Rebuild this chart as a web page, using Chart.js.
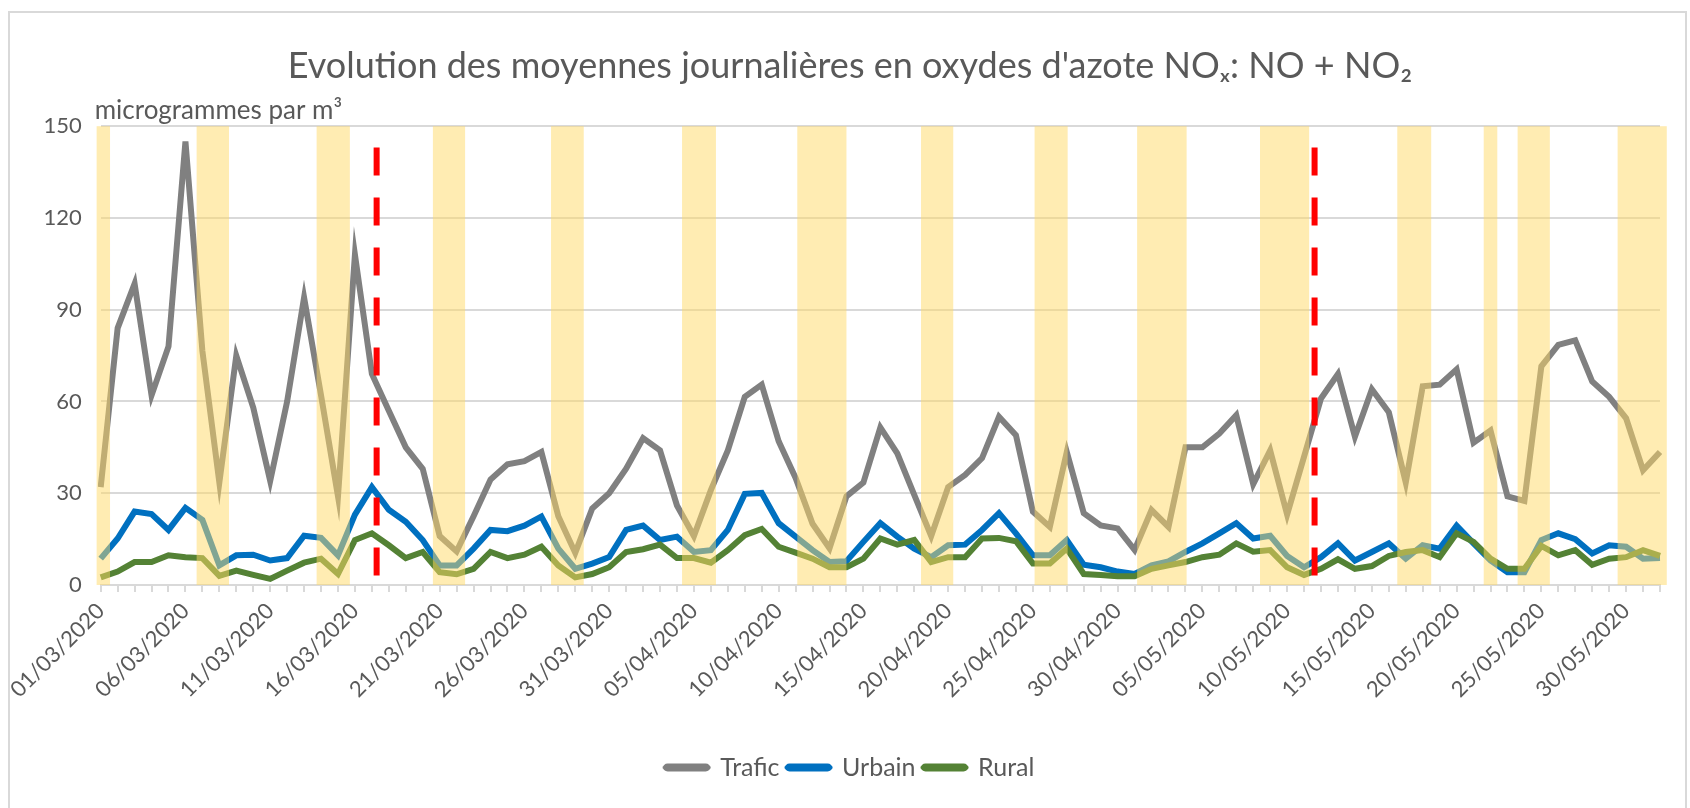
<!DOCTYPE html>
<html>
<head>
<meta charset="utf-8">
<script src="https://cdn.jsdelivr.net/npm/chart.js@4"></script>
<style>
  html, body { margin: 0; padding: 0; background: #fff; }
  #wrap { position: relative; width: 1690px; height: 808px; overflow: hidden; }
  #frame { position: absolute; left: 8px; top: 11px; right: 3px; bottom: -5px; border: 2px solid #D9D9D9; }
  canvas { position: absolute; left: 0; top: 0; }
</style>
</head>
<body>
<div id="wrap">
  <div id="frame"></div>
  <canvas id="noxChart" width="1690" height="808"></canvas>
</div>
<script>
// Jours du 01/03/2020 au 01/06/2020
const dates = [];
for (let d = new Date(2020, 2, 1); d <= new Date(2020, 5, 1); d.setDate(d.getDate() + 1)) {
    const dd = String(d.getDate()).padStart(2, "0");
    const mm = String(d.getMonth() + 1).padStart(2, "0");
    dates.push(dd + "/" + mm + "/2020");
}

// Moyennes journalières (µg/m³)
const trafic = [32, 84, 98.5, 62, 78, 145, 76.5, 33.5, 75, 58, 34, 60, 94, 62, 29, 108, 69, 57, 45, 38,
    16, 11, 22.5, 34.5, 39.5, 40.5, 43.5, 22.5, 10.5, 25, 30, 38, 48, 44, 26, 16, 31, 44, 61.5, 65.5,
    47, 35, 20, 12, 29, 33.5, 51.5, 43, 29.5, 16, 32, 36, 41.5, 55, 49, 24, 19, 43.5, 23.5, 19.5,
    18.5, 11.5, 24.5, 19, 45, 45, 49.5, 55.5, 33, 44, 23, 42, 61, 69, 48.5, 64, 56.5, 33.5, 65, 65.5,
    70.5, 46.5, 50.5, 29, 27.5, 71.5, 78.5, 80, 66.5, 61.5, 54.5, 37.5, 43.5];

const urbain = [8.6, 15.2, 24, 23.2, 18, 25.2, 21.3, 6.4, 9.7, 9.9, 8, 8.8, 16.1, 15.4, 9.7, 23, 32, 24.6, 20.7, 14.7,
    6.4, 6.4, 11.9, 18, 17.6, 19.4, 22.4, 11.9, 5.3, 7, 9.1, 18, 19.4, 14.7, 15.8, 10.8, 11.4, 18, 29.8, 30.1,
    20.2, 15.8, 11.4, 7.5, 7.8, 14.1, 20.2, 15.8, 11.9, 9.1, 13, 13.2, 18, 23.5, 16.9, 9.7, 9.7, 14.7, 6.6, 5.8,
    4.4, 3.6, 6.4, 7.7, 10.8, 13.6, 16.9, 20.2, 15.2, 16.1, 9.5, 5.8, 9.1, 13.6, 8, 10.8, 13.6, 8.6, 13, 11.9,
    19.4, 13.6, 8, 4.2, 4.2, 14.7, 16.9, 15, 10.3, 13, 12.5, 8.6, 8.8];

const rural = [2.5, 4.4, 7.5, 7.5, 9.7, 9.1, 8.8, 3, 4.7, 3.3, 2, 4.7, 7.3, 8.6, 3.6, 14.7, 16.9, 13, 8.8, 10.8,
    4.2, 3.5, 5.3, 10.8, 8.8, 9.9, 12.5, 6.4, 2.5, 3.6, 5.8, 10.8, 11.7, 13.2, 8.8, 8.8, 7.3, 11.4, 16.3, 18.3,
    12.5, 10.6, 8.6, 5.8, 5.8, 8.6, 15.2, 13.2, 14.7, 7.5, 9.1, 9.1, 15.2, 15.4, 14.3, 7, 7, 11.9, 3.6, 3.3,
    2.9, 2.9, 5.3, 6.4, 7.5, 9.1, 9.9, 13.6, 10.9, 11.4, 5.8, 3.3, 5.3, 8.4, 5.3, 6.2, 9.5, 10.8, 11.4, 9.1,
    16.9, 14.1, 8.6, 5.3, 5.3, 12.8, 9.7, 11.4, 6.6, 8.6, 9.1, 11.4, 9.5];

// Week-ends et jours fériés (en index de jour, début / fin)
const holidayBands = [
    [-0.24, 0.55], [5.66, 7.57], [12.74, 14.7], [19.6, 21.5], [26.57, 28.5],
    [34.3, 36.3], [41.1, 44.0], [48.4, 50.3], [55.1, 57.05], [61.15, 64.07],
    [68.4, 71.3], [76.5, 78.5], [81.6, 82.4], [83.6, 85.5], [89.5, 92.4]
];

// Début et fin du confinement
const lockdownMarks = [16.28, 71.62];
const lockdownTop = 143;

// Graduations
const yTicks = { min: 0, max: 150, step: 30 };

const textColor = "#595959";
const fontFamily = "Lato, 'Liberation Sans', sans-serif";

const overlayPlugin = {
    id: "overlay",
    afterDatasetsDraw(chart) {
        const { ctx, scales: { x, y } } = chart;
        const top = y.getPixelForValue(yTicks.max);
        const bottom = y.getPixelForValue(0);

        ctx.save();
        ctx.fillStyle = "rgba(255, 217, 102, 0.5)";
        holidayBands.forEach(([from, to]) => {
            const x1 = x.getPixelForValue(from);
            const x2 = x.getPixelForValue(to);
            ctx.fillRect(x1, top, x2 - x1, bottom - top);
        });

        ctx.strokeStyle = "#FF0000";
        ctx.lineWidth = 6;
        ctx.setLineDash([28, 22]);
        lockdownMarks.forEach(pos => {
            const px = x.getPixelForValue(pos);
            ctx.beginPath();
            ctx.moveTo(px, y.getPixelForValue(lockdownTop));
            ctx.lineTo(px, bottom);
            ctx.stroke();
        });
        ctx.restore();
    },
    afterDraw(chart) {
        const { ctx, chartArea } = chart;
        ctx.save();
        ctx.fillStyle = textColor;
        ctx.font = "26px " + fontFamily;
        ctx.textAlign = "left";
        ctx.textBaseline = "middle";
        ctx.fillText("microgrammes par m³", chartArea.left - 6, chartArea.top - 16);
        ctx.restore();
    }
};

new Chart(document.getElementById("noxChart"), {
    type: "line",
    data: {
        labels: dates,
        datasets: [
            { label: "Trafic", data: trafic, borderColor: "#808080", backgroundColor: "#808080", order: 3 },
            { label: "Urbain", data: urbain, borderColor: "#0070C0", backgroundColor: "#0070C0", order: 2 },
            { label: "Rural", data: rural, borderColor: "#548235", backgroundColor: "#548235", order: 1 }
        ]
    },
    options: {
        responsive: false,
        animation: false,
        devicePixelRatio: 1,
        layout: { padding: { top: 0, left: 40, right: 30, bottom: 18 } },
        elements: {
            line: { borderWidth: 6, tension: 0 },
            point: { radius: 0 }
        },
        plugins: {
            tooltip: { enabled: false },
            title: {
                display: true,
                text: "Evolution des moyennes journalières en oxydes d'azote NOₓ: NO + NO₂",
                color: textColor,
                font: { family: fontFamily, size: 36, weight: "normal" },
                padding: { top: 45, bottom: 38 }
            },
            legend: {
                position: "bottom",
                labels: {
                    sort: (a, b) => a.datasetIndex - b.datasetIndex,
                    color: textColor,
                    font: { family: fontFamily, size: 25 },
                    boxWidth: 42,
                    boxHeight: 2,
                    useBorderRadius: true,
                    borderRadius: 2,
                    padding: 8
                }
            }
        },
        scales: {
            x: {
                afterFit(scale) { scale.height = 162; },
                grid: { drawOnChartArea: false, color: "#D9D9D9", lineWidth: 2, tickLength: 7 },
                border: { color: "#D9D9D9", width: 2 },
                ticks: {
                    autoSkip: false,
                    minRotation: 45,
                    maxRotation: 45,
                    padding: 6,
                    color: textColor,
                    font: { family: fontFamily, size: 22 },
                    callback: (value, index) => index % 5 === 0 ? dates[index] : ""
                }
            },
            y: {
                min: yTicks.min,
                max: yTicks.max,
                afterFit(scale) { scale.width = 60.7; },
                grid: { color: "#D9D9D9", lineWidth: 2, drawTicks: false },
                border: { display: false },
                ticks: {
                    stepSize: yTicks.step,
                    padding: 19,
                    color: textColor,
                    font: { family: fontFamily, size: 22 }
                }
            }
        }
    },
    plugins: [overlayPlugin]
});
</script>
</body>
</html>
